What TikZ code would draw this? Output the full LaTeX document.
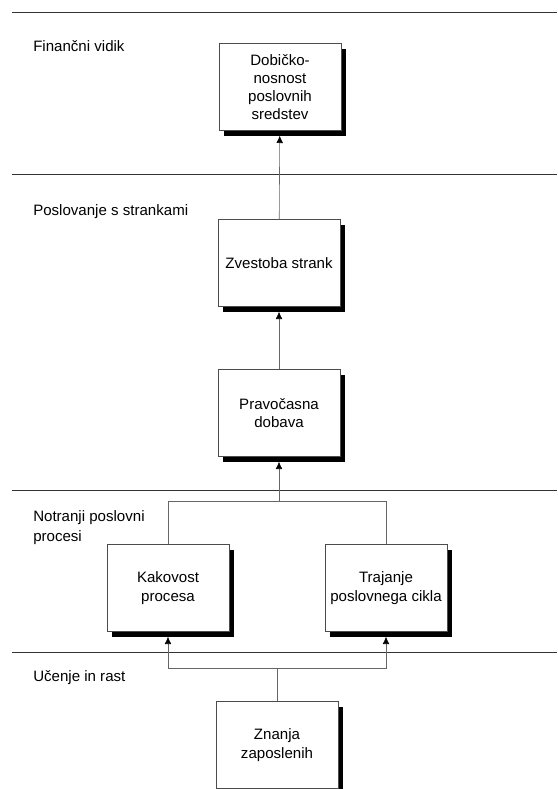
\documentclass[tikz,border=0pt]{standalone}
\usepackage{fontspec}
\setmainfont{Liberation Sans}
\usetikzlibrary{arrows.meta,shadows}
\tikzset{
  kpi/.style={draw=black!70, line width=.5pt, fill=white, align=center,
    minimum width=91.5pt, minimum height=65pt, inner sep=2pt,
    font=\fontsize{11.3}{13.7}\selectfont,
    drop shadow={shadow xshift=3.75pt, shadow yshift=-4pt, fill=black, opacity=1}},
  vidik/.style={anchor=west, align=left, inner sep=0pt,
    font=\fontsize{11.3}{15}\selectfont},
  meja/.style={draw=black!80, line width=.7pt},
  pov/.style={draw=black!60, line width=.45pt},
  puscica/.style={pov, ->, shorten >=3.75pt}
}
\begin{document}
\begin{tikzpicture}[x=.75pt, y=-.75pt, >={Latex[length=5.5pt,width=5pt,black]}]
\useasboundingbox (0,0) rectangle (557,789);
% meje med vidiki
\draw[meja](12,12)--(557,12);
\draw[meja](12,174)--(557,174);
\draw[meja](12,490)--(557,490);
\draw[meja](12,652)--(557,652);
% vidiki
\node[vidik] (vfin) at (33,46) {Finančni vidik};
\node[vidik] (vstr) at (33,212) {Poslovanje s strankami};
\node[vidik] (vnot) at (33,528) {Notranji poslovni\\procesi};
\node[vidik] (vuc) at (33,678) {Učenje in rast};
% kazalniki
\node[kpi] (dob) at (280,87) {Dobičko-\\nosnost\\poslovnih\\sredstev};
\node[kpi] (zve) at (279,263) {Zvestoba strank};
\node[kpi] (prav) at (279,413) {Pravočasna\\dobava};
\node[kpi] (kak) at (168,588) {Kakovost\\procesa};
\node[kpi] (traj) at (386,588) {Trajanje\\poslovnega cikla};
\node[kpi] (znan) at (277,745) {Znanja\\zaposlenih};
% povezave
\coordinate (jgor) at (279,501);
\coordinate (jdol) at (277,668);
\draw[puscica](zve)--(dob);
\draw[puscica](prav)--(zve);
\draw[pov](kak.north)|-(jgor);
\draw[pov](traj.north)|-(jgor);
\draw[puscica](jgor)--(prav.south);
\draw[pov](znan.north)--(jdol);
\draw[puscica](jdol)-|(kak.south);
\draw[puscica](jdol)-|(traj.south);
\end{tikzpicture}
\end{document}
